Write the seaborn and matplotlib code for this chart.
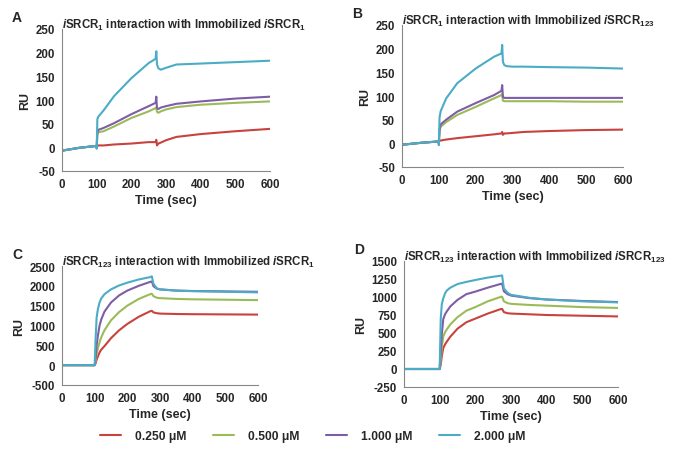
import matplotlib
matplotlib.use('Agg')
import matplotlib.pyplot as plt
from matplotlib.lines import Line2D
import seaborn as sns
import pandas as pd

# concentrations and colours
conc_labels = ['0.250 \u03bcM', '0.500 \u03bcM', '1.000 \u03bcM', '2.000 \u03bcM']
colors = ['#C8423E', '#9BBB59', '#7E5DA6', '#4BACC6']

# time points (sec)
time_ab = [0, 50, 99, 100, 102, 105, 120, 150, 200, 250, 270, 272, 274, 278, 285, 300, 330, 400, 500, 600]
time_cd = [0, 50, 100, 103, 106, 110, 115, 120, 130, 150, 175, 200, 235, 270, 275, 280, 290, 300, 350, 400, 500, 600]

# A: iSRCR1 on immobilized iSRCR1
a_red = [-7, -1, 3, 2, 3, 4, 4, 6, 8, 11, 11, 16, 4, 8, 10, 15, 22, 28, 34, 39]
a_green = [-7, -1, 3, -1, 27, 32, 34, 44, 62, 76, 83, 84, 75, 73, 76, 80, 85, 90, 94, 97]
a_purple = [-7, -1, 3, -1, 32, 37, 41, 51, 70, 87, 94, 107, 83, 81, 84, 87, 92, 97, 103, 107]
a_cyan = [-7, -1, 3, -3, 60, 65, 78, 108, 146, 178, 187, 203, 175, 167, 164, 168, 175, 177, 180, 183]

# B: iSRCR1 on immobilized iSRCR123
b_red = [-3, 1, 4, 5, 5, 6, 8, 11, 15, 19, 21, 24, 18, 21, 21, 22, 24, 26, 28, 29]
b_green = [-3, 1, 4, 0, 25, 35, 45, 60, 77, 95, 102, 104, 90, 89, 89, 89, 89, 89, 88, 88]
b_purple = [-3, 1, 4, 0, 30, 40, 50, 67, 85, 102, 111, 123, 98, 96, 96, 96, 96, 96, 96, 96]
b_cyan = [-3, 1, 4, -4, 55, 68, 95, 127, 158, 183, 190, 208, 172, 165, 163, 162, 162, 161, 160, 158]

# C: iSRCR123 on immobilized iSRCR1
c_red = [0, 0, 0, 50, 140, 220, 320, 390, 480, 680, 880, 1040, 1220, 1360, 1370, 1330, 1310, 1300, 1290, 1285, 1280, 1275]
c_green = [0, 0, 0, 100, 280, 430, 580, 700, 880, 1130, 1340, 1500, 1670, 1790, 1800, 1740, 1700, 1690, 1670, 1660, 1650, 1640]
c_purple = [0, 0, 0, 200, 500, 750, 1000, 1150, 1350, 1580, 1760, 1880, 2000, 2100, 2110, 1990, 1930, 1910, 1880, 1870, 1860, 1850]
c_cyan = [0, 0, 0, 700, 1200, 1420, 1580, 1680, 1790, 1910, 2010, 2080, 2160, 2220, 2240, 2050, 1940, 1910, 1880, 1865, 1850, 1835]

# D: iSRCR123 on immobilized iSRCR123
d_red = [0, 0, 0, 60, 180, 290, 340, 380, 450, 560, 650, 700, 770, 830, 835, 790, 775, 770, 760, 750, 740, 730]
d_green = [0, 0, 0, 120, 300, 450, 510, 550, 620, 720, 810, 860, 940, 1000, 1005, 940, 915, 905, 890, 880, 860, 848]
d_purple = [0, 0, 0, 250, 480, 690, 760, 800, 870, 960, 1040, 1075, 1130, 1180, 1185, 1080, 1040, 1020, 985, 965, 945, 930]
d_cyan = [0, 0, 0, 700, 900, 980, 1050, 1090, 1130, 1180, 1210, 1236, 1270, 1295, 1300, 1120, 1060, 1030, 990, 965, 940, 925]

sns.set_style('white')
plt.rcParams['font.family'] = ['Liberation Sans', 'DejaVu Sans']
plt.rcParams['font.weight'] = 'bold'
plt.rcParams['axes.unicode_minus'] = False
plt.rcParams['mathtext.fontset'] = 'custom'
plt.rcParams['mathtext.rm'] = 'Liberation Sans:bold'
plt.rcParams['mathtext.it'] = 'Liberation Sans:bold:italic'
plt.rcParams['mathtext.bf'] = 'Liberation Sans:bold'


def to_frame(t, series):
    rows = []
    for lab, vals in zip(conc_labels, series):
        for x, y in zip(t, vals):
            rows.append({'Time': x, 'RU': y, 'Conc': lab})
    return pd.DataFrame(rows)


panels = [
    ('A', time_ab, [a_red, a_green, a_purple, a_cyan], (-50, 250, 50),
     r'$\mathit{i}$SRCR$_{1}$ interaction with Immobilized $\mathit{i}$SRCR$_{1}$',
     [62, 30, 270, 172]),
    ('B', time_ab, [b_red, b_green, b_purple, b_cyan], (-50, 250, 50),
     r'$\mathit{i}$SRCR$_{1}$ interaction with Immobilized $\mathit{i}$SRCR$_{123}$',
     [402, 26, 623, 168]),
    ('C', time_cd, [c_red, c_green, c_purple, c_cyan], (-500, 2500, 500),
     r'$\mathit{i}$SRCR$_{123}$ interaction with Immobilized $\mathit{i}$SRCR$_{1}$',
     [62, 267, 258, 386]),
    ('D', time_cd, [d_red, d_green, d_purple, d_cyan], (-250, 1500, 250),
     r'$\mathit{i}$SRCR$_{123}$ interaction with Immobilized $\mathit{i}$SRCR$_{123}$',
     [404, 262, 618, 388]),
]

W, H = 677, 460
fig = plt.figure(figsize=(W / 100, H / 100), dpi=100)

for letter, t, series, (lo, hi, step), title, box in panels:
    x0, y0, x1, y1 = box
    ax = fig.add_axes([x0 / W, 1 - y1 / H, (x1 - x0) / W, (y1 - y0) / H])
    df = to_frame(t, series)
    sns.lineplot(data=df, x='Time', y='RU', hue='Conc', palette=colors,
                 estimator=None, legend=False, linewidth=1.5, ax=ax)
    ax.set_xlim(0, 600)
    ax.set_ylim(lo, hi)
    ax.set_xticks(range(0, 601, 100))
    ax.set_yticks(range(lo, hi + 1, step))
    ax.tick_params(labelsize=8.3, length=3, color='#868686', pad=2)
    for s in ['top', 'right']:
        ax.spines[s].set_visible(False)
    for s in ['left', 'bottom']:
        ax.spines[s].set_color('#868686')
        ax.spines[s].set_linewidth(0.8)
    ax.set_xlabel('Time (sec)', fontsize=9, fontweight='bold', labelpad=3)
    ax.set_ylabel('RU', fontsize=9, fontweight='bold', labelpad=3)
    ax.set_title(title, loc='left', fontsize=8.3, fontweight='bold', pad=1)
    fig.text(x0 / W - 50 / W, 1 - (y0 - 12) / H, letter, fontsize=10,
             fontweight='bold', va='center')

handles = [Line2D([0], [0], color=c, lw=1.5) for c in colors]
fig.legend(handles, conc_labels, loc='center', bbox_to_anchor=(0.462, 1 - 437 / H),
           ncol=4, frameon=False, handlelength=1.7,
           handletextpad=1.2, columnspacing=2.2,
           prop={'weight': 'bold', 'size': 8.7})

fig.savefig('out.png', dpi=100, facecolor='white')
